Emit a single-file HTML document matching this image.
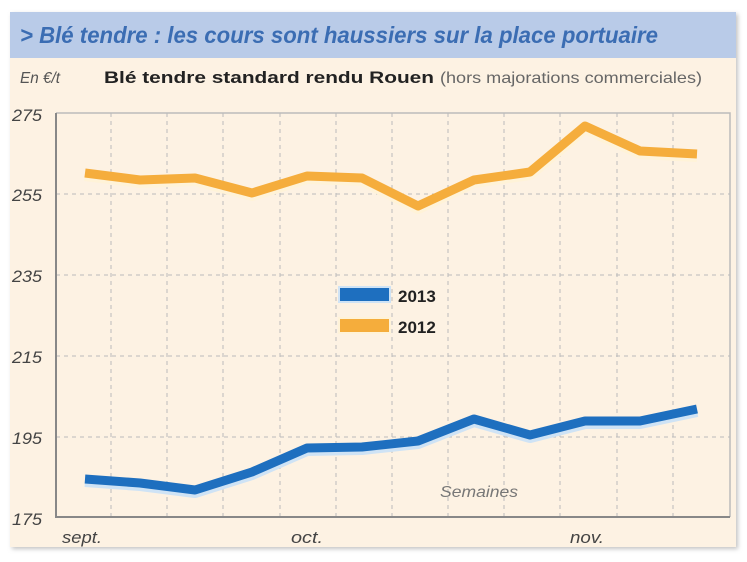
<!DOCTYPE html>
<html><head><meta charset="utf-8"><style>
body{margin:0;background:#fff;width:747px;height:557px;overflow:hidden;font-family:"Liberation Sans",sans-serif}
</style></head><body>
<svg width="747" height="557" xmlns="http://www.w3.org/2000/svg">
<defs><filter id="sh"><feDropShadow dx="2" dy="2" stdDeviation="2" flood-color="#888" flood-opacity="0.5"/></filter></defs>
<rect x="10" y="12" width="726" height="535" fill="#fdf2e3" filter="url(#sh)"/>
<rect x="10" y="12" width="726" height="46" fill="#b9cbe8"/>
<text x="20" y="43" font-size="23" font-weight="bold" font-style="italic" fill="#3b6db3" textLength="638" lengthAdjust="spacingAndGlyphs">&gt; Blé tendre : les cours sont haussiers sur la place portuaire</text>
<text x="20" y="83" font-size="16" font-style="italic" fill="#555" textLength="40" lengthAdjust="spacingAndGlyphs">En €/t</text>
<text x="104" y="83" font-size="17" font-weight="bold" fill="#222" textLength="330" lengthAdjust="spacingAndGlyphs">Blé tendre standard rendu Rouen</text>
<text x="440" y="83" font-size="16" fill="#666" textLength="262" lengthAdjust="spacingAndGlyphs">(hors majorations commerciales)</text>
<g stroke="#bbb" stroke-width="1" stroke-dasharray="4,4">
<line x1="56" y1="194" x2="730" y2="194"/><line x1="56" y1="275" x2="730" y2="275"/><line x1="56" y1="356" x2="730" y2="356"/><line x1="56" y1="437" x2="730" y2="437"/>
<line x1="111" y1="113" x2="111" y2="517"/><line x1="167" y1="113" x2="167" y2="517"/><line x1="223" y1="113" x2="223" y2="517"/><line x1="280" y1="113" x2="280" y2="517"/><line x1="336" y1="113" x2="336" y2="517"/><line x1="392" y1="113" x2="392" y2="517"/><line x1="448" y1="113" x2="448" y2="517"/><line x1="504" y1="113" x2="504" y2="517"/><line x1="560" y1="113" x2="560" y2="517"/><line x1="617" y1="113" x2="617" y2="517"/><line x1="673" y1="113" x2="673" y2="517"/>
</g>
<polyline points="56,113 730,113 730,517" fill="none" stroke="#bbb" stroke-width="1.5"/>
<polyline points="56,113 56,517 730,517" fill="none" stroke="#888" stroke-width="2"/>
<g font-size="17" font-style="italic" fill="#444">
<text x="12" y="121" textLength="30" lengthAdjust="spacingAndGlyphs">275</text><text x="12" y="201" textLength="30" lengthAdjust="spacingAndGlyphs">255</text><text x="12" y="282" textLength="30" lengthAdjust="spacingAndGlyphs">235</text><text x="12" y="363" textLength="30" lengthAdjust="spacingAndGlyphs">215</text><text x="12" y="444" textLength="30" lengthAdjust="spacingAndGlyphs">195</text><text x="12" y="525" textLength="30" lengthAdjust="spacingAndGlyphs">175</text>
<text x="62" y="543" textLength="40" lengthAdjust="spacingAndGlyphs">sept.</text><text x="291" y="543" textLength="32" lengthAdjust="spacingAndGlyphs">oct.</text><text x="570" y="543" textLength="34" lengthAdjust="spacingAndGlyphs">nov.</text>
</g>
<text x="440" y="497" font-size="16" font-style="italic" fill="#777" textLength="78" lengthAdjust="spacingAndGlyphs">Semaines</text>
<polyline points="85,173 140,180 195,178 252,193 307,176 362,178 418,206 474,180 530,172 585,126 640,151 697,154" fill="none" stroke="#fff3d8" stroke-width="12" stroke-linejoin="round" transform="translate(0,2)"/>
<polyline points="85,173 140,180 195,178 252,193 307,176 362,178 418,206 474,180 530,172 585,126 640,151 697,154" fill="none" stroke="#f5ad3c" stroke-width="9" stroke-linejoin="round"/>
<polyline points="85,479 140,483 195,490 252,472 307,448 362,447 418,441 474,419 530,435 585,421 640,421 697,409" fill="none" stroke="#cfe3f5" stroke-width="12" stroke-linejoin="round" transform="translate(0,2)"/>
<polyline points="85,479 140,483 195,490 252,472 307,448 362,447 418,441 474,419 530,435 585,421 640,421 697,409" fill="none" stroke="#1e6fbf" stroke-width="9" stroke-linejoin="round"/>
<rect x="339" y="287" width="51" height="15" fill="#1e6fbf" stroke="#cfe3f5" stroke-width="2"/>
<rect x="339" y="318" width="51" height="15" fill="#f5ad3c" stroke="#fff3d8" stroke-width="2"/>
<text x="398" y="302" font-size="17" font-weight="bold" fill="#222">2013</text>
<text x="398" y="333" font-size="17" font-weight="bold" fill="#222">2012</text>
</svg>
</body></html>
